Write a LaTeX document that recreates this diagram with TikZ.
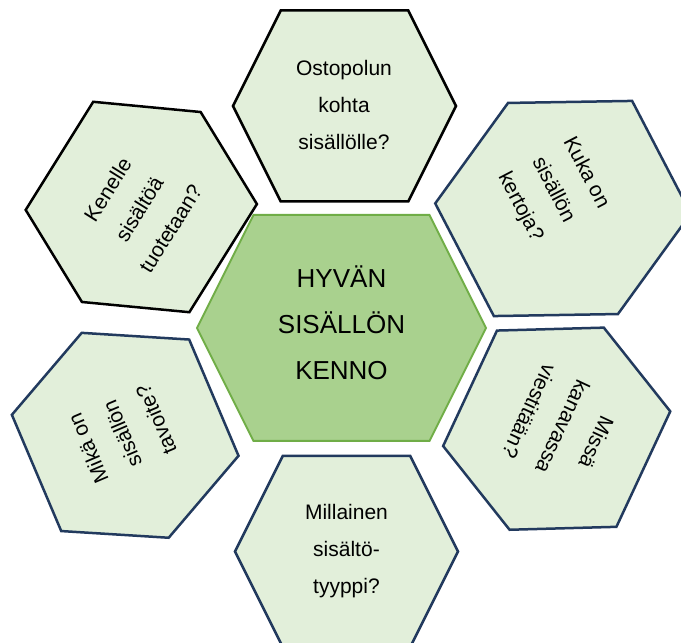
\documentclass[tikz,border=0pt]{standalone}
\usepackage{fontspec}
\setmainfont{Liberation Sans}
\definecolor{lightfill}{HTML}{E2EFDA}
\definecolor{midfill}{HTML}{A9D18E}
\definecolor{midline}{HTML}{70AD47}
\definecolor{navyline}{HTML}{223A5E}
\newcommand{\hexshape}[6]{%
  \begin{scope}[shift={(#2,#3)},rotate=#6]
    \pgfmathsetmacro\hxw{#4/2}%
    \pgfmathsetmacro\hxh{#5/2}%
    \pgfmathsetmacro\hxi{0.25*min(#4,#5)}%
    \draw[#1] (-\hxw,0) -- (-\hxw+\hxi,\hxh) -- (\hxw-\hxi,\hxh) -- (\hxw,0)
      -- (\hxw-\hxi,-\hxh) -- (-\hxw+\hxi,-\hxh) -- cycle;
  \end{scope}}
\tikzset{
  blackhex/.style={draw=black,fill=lightfill,line width=2.5pt},
  navyhex/.style={draw=navyline,fill=lightfill,line width=2.5pt},
  centerhex/.style={draw=midline,fill=midfill,line width=2pt},
  smalltxt/.style={align=center,inner sep=0pt,font=\fontsize{21}{37}\selectfont},
  bigtxt/.style={align=center,inner sep=0pt,font=\fontsize{26}{46}\selectfont}
}
\begin{document}
\begin{tikzpicture}[x=1pt,y=1pt]
\useasboundingbox (0,0) rectangle (681,643);
\clip (0,0) rectangle (681,643);
% hexagons
\hexshape{centerhex}{341.5}{315}{289}{226}{0}
\hexshape{blackhex}{344.5}{537}{223}{191}{0}
\hexshape{navyhex}{346.5}{91.5}{223}{191}{0}
\hexshape{blackhex}{141.3}{436}{224}{193}{58}
\hexshape{navyhex}{563}{434.5}{238}{222}{-62.5}
\hexshape{navyhex}{125.2}{207.7}{222.6}{192.6}{113}
\hexshape{navyhex}{556.7}{214.3}{223}{191.2}{245}
% texts
\node[bigtxt] (center) at (341.5,320) {HYVÄN\\SISÄLLÖN\\KENNO};
\node[smalltxt] (top) at (344,538) {Ostopolun\\kohta\\ sisällölle?};
\node[smalltxt] (bottom) at (346.5,92) {Millainen\\sisältö-\\tyyppi?};
\node[smalltxt,rotate=58] (topleft) at (139,434) {Kenelle\\sisältöä\\tuotetaan?};
\node[smalltxt,rotate=-62.5] (topright) at (553,453) {Kuka on\\sisällön\\kertoja?};
\node[smalltxt,rotate=113] (bottomleft) at (122,209) {Mikä on\\sisällön\\tavoite?};
\node[smalltxt,rotate=245] (bottomright) at (563,216) {Missä\\kanavassa\\viestitään?};
\end{tikzpicture}
\end{document}
